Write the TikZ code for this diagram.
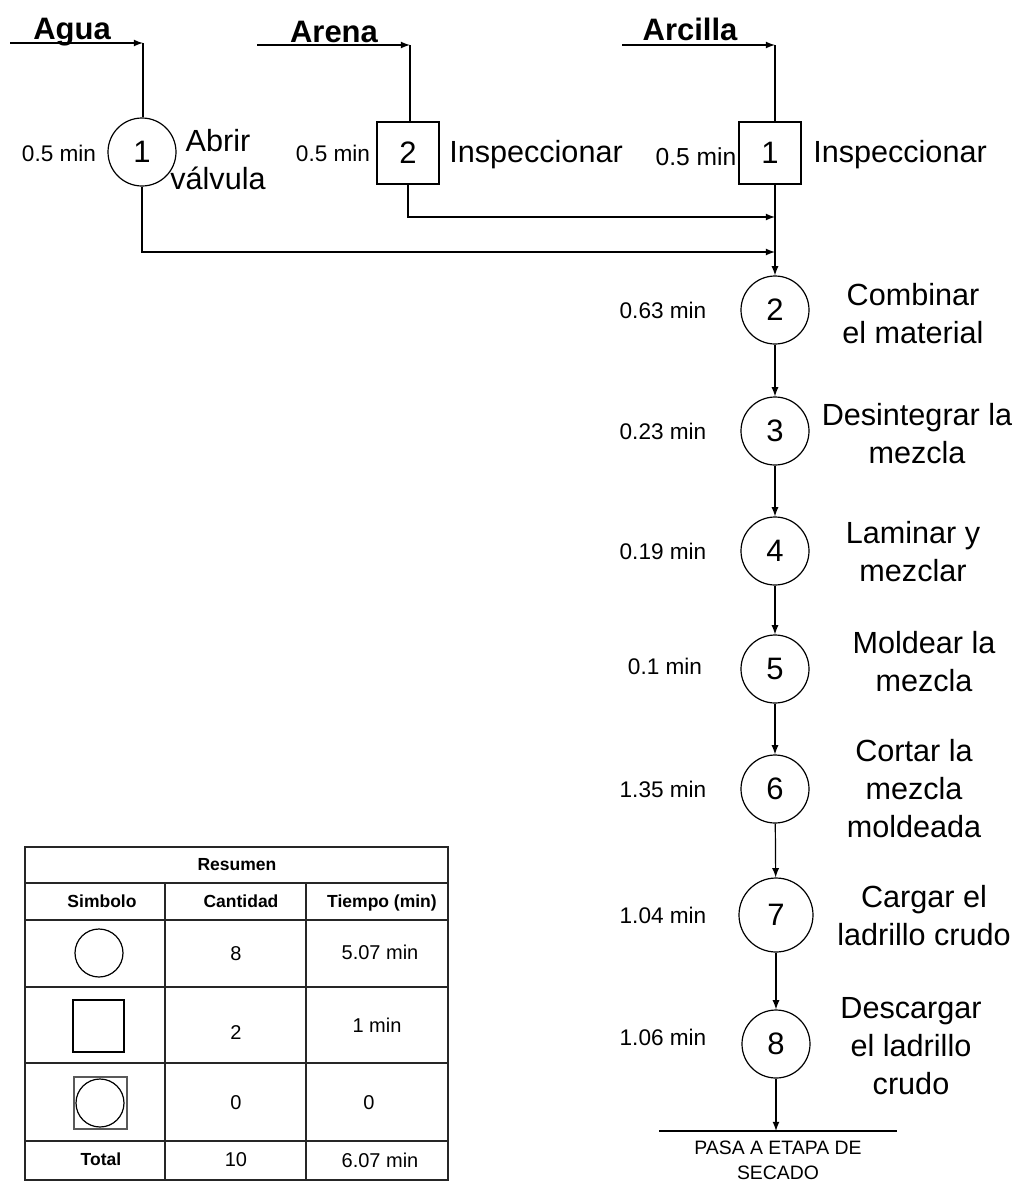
\documentclass[tikz,border=0pt]{standalone}
\usepackage{fontspec}
\setmainfont{Liberation Sans}
\usepackage{tikz}
\usetikzlibrary{arrows}

\tikzset{
    opcirc/.style={circle, draw, line width=0.6pt, minimum size=34pt, inner sep=0pt, font=\fontsize{15.5}{18}\selectfont},
    inspbox/.style={rectangle, draw, line width=0.6pt, minimum size=31pt, inner sep=0pt, font=\fontsize{15.5}{18}\selectfont},
    timelbl/.style={text height=8.1pt, text depth=0pt, font=\fontsize{11.3}{13}\selectfont},
    desclbl/.style={align=center, font=\fontsize{15.3}{19}\selectfont},
    headlbl/.style={anchor=base, inner sep=0pt, font=\bfseries\fontsize{15.5}{18}\selectfont},
    flow/.style={line width=0.6pt, -latex},
    tblline/.style={line width=0.6pt, draw=black!85},
    tblhead/.style={text height=6.3pt, text depth=0pt, font=\bfseries\fontsize{8.75}{10}\selectfont},
    tbltext/.style={text height=7.2pt, text depth=0pt, font=\fontsize{10}{12}\selectfont}
}

\begin{document}
\begin{tikzpicture}[x=0.5pt, y=-0.5pt]
    \useasboundingbox (0,0) rectangle (1020,1184);

    % Entradas de material
    \node[headlbl] (agua) at (72,39) {Agua};
    \coordinate (aguaini) at (10,43);
    \coordinate (aguafin) at (143,43);
    \node[headlbl] (arena) at (334,42.5) {Arena};
    \coordinate (arenaini) at (257,45);
    \coordinate (arenafin) at (410,45);
    \node[headlbl] (arcilla) at (690,40) {Arcilla};
    \coordinate (arcillaini) at (622,45);
    \coordinate (arcillafin) at (775,45);

    % Primeras operaciones
    \node[opcirc] (op1) at (142,152) {1};
    \node[timelbl] (t1) at (59,153) {0.5 min};
    \node[desclbl] (d1) at (218,160) {Abrir\\válvula};

    \node[inspbox] (in2) at (408,153) {2};
    \node[timelbl] (t2) at (333,153) {0.5 min};
    \node[desclbl] (d2) at (536,155) {Inspeccionar};

    \node[inspbox] (in1) at (770,153) {1};
    \node[timelbl, text height=8.8pt, font=\fontsize{12.3}{14}\selectfont] (t3) at (696,157) {0.5 min};
    \node[desclbl] (d3) at (900,155) {Inspeccionar};

    % Columna principal
    \node[opcirc] (op2) at (775,310) {2};
    \node[opcirc] (op3) at (775,431) {3};
    \node[opcirc] (op4) at (775,551) {4};
    \node[opcirc] (op5) at (775,669) {5};
    \node[opcirc] (op6) at (775,789) {6};
    \node[opcirc, minimum size=37pt] (op7) at (776,915) {7};
    \node[opcirc] (op8) at (776,1044) {8};

    \node[timelbl] (t4) at (663,310) {0.63 min};
    \node[timelbl] (t5) at (663,431) {0.23 min};
    \node[timelbl] (t6) at (663,551) {0.19 min};
    \node[timelbl] (t7) at (665,666) {0.1 min};
    \node[timelbl] (t8) at (663,789) {1.35 min};
    \node[timelbl] (t9) at (663,915) {1.04 min};
    \node[timelbl] (t10) at (663,1037) {1.06 min};

    \node[desclbl] (d4) at (913,314) {Combinar\\el material};
    \node[desclbl] (d5) at (917,434) {Desintegrar la\\mezcla};
    \node[desclbl] (d6) at (913,552) {Laminar y\\mezclar};
    \node[desclbl] (d7) at (924,662) {Moldear la\\mezcla};
    \node[desclbl] (d8) at (914,789) {Cortar la\\mezcla\\moldeada};
    \node[desclbl] (d9) at (924,916) {Cargar el\\ladrillo crudo};
    \node[desclbl] (d10) at (911,1046) {Descargar\\el ladrillo\\crudo};

    % Salida
    \coordinate (finizq) at (659,1131);
    \coordinate (finder) at (897,1131);
    \node[align=center, font=\fontsize{9.7}{12.5}\selectfont] (pasa) at (778,1160) {PASA A ETAPA DE\\SECADO};

    % Conectores
    \draw[flow] (aguaini) -- (aguafin);
    \draw[line width=0.6pt] (aguafin) -- (aguafin |- op1.north);
    \draw[flow] (arenaini) -- (arenafin);
    \draw[line width=0.6pt] (arenafin) -- (arenafin |- in2.north);
    \draw[flow] (arcillaini) -- (arcillafin);
    \draw[line width=0.6pt] (arcillafin) -- (arcillafin |- in1.north);

    \coordinate (unearena) at (775,217);
    \coordinate (uneagua) at (775,252);
    \draw[flow] (in2.south) |- (unearena);
    \draw[flow] (op1.south) |- (uneagua);
    \draw[flow] (arcillafin |- in1.south) -- (op2);

    \draw[flow] (op2) -- (op3);
    \draw[flow] (op3) -- (op4);
    \draw[flow] (op4) -- (op5);
    \draw[flow] (op5) -- (op6);
    \draw[flow] (op6) -- (op7);
    \draw[flow] (op7) -- (op8);
    \draw[flow] (op8) -- (op8 |- finizq);
    \draw[line width=0.6pt] (finizq) -- (finder);

    % Tabla resumen
    \draw[tblline] (25,847) rectangle (448,1180);
    \draw[tblline] (25,883) -- (448,883);
    \draw[tblline] (25,920) -- (448,920);
    \draw[tblline] (25,987) -- (448,987);
    \draw[tblline] (25,1063) -- (448,1063);
    \draw[tblline] (25,1141) -- (448,1141);
    \draw[tblline] (165,883) -- (165,1180);
    \draw[tblline] (306,883) -- (306,1180);

    \node[tblhead] (resumen) at (237,864) {Resumen};
    \node[tblhead] (simbolo) at (102,901) {Simbolo};
    \node[tblhead] (cantidad) at (241,901) {Cantidad};
    \node[tblhead] (tiempo) at (382,901) {Tiempo (min)};

    % Simbolos
    \draw[line width=0.6pt] (99,953) circle [radius=12pt];
    \draw[line width=0.6pt] (73,1000) rectangle (124,1052);
    \draw[line width=1pt, draw=black!65] (74,1077) rectangle (127,1129);
    \draw[line width=0.6pt] (100,1103) circle [radius=12pt];

    \node[tbltext] (n1) at (236,953) {8};
    \node[tbltext] (m1) at (380,952) {5.07 min};
    \node[tbltext] (n2) at (236,1032) {2};
    \node[tbltext] (m2) at (377,1025) {1 min};
    \node[tbltext] (n3) at (236,1102) {0};
    \node[tbltext] (m3) at (369,1102) {0};
    \node[tblhead] (total) at (101,1159) {Total};
    \node[tbltext] (n4) at (236,1159) {10};
    \node[tbltext] (m4) at (380,1160) {6.07 min};
\end{tikzpicture}
\end{document}
